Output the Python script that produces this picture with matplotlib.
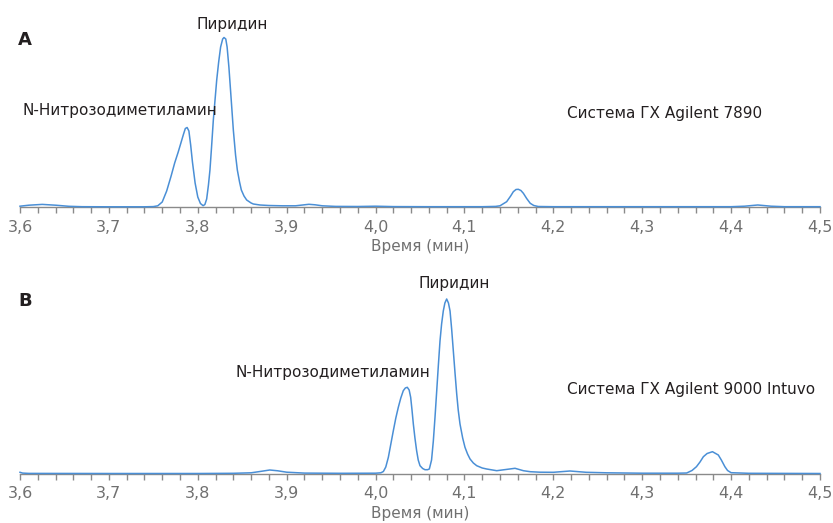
import matplotlib
matplotlib.use("Agg")
import matplotlib.pyplot as plt
from matplotlib.ticker import FixedLocator, FixedFormatter, MultipleLocator

plt.rcParams['font.family'] = ['DejaVu Sans']

# retention time (min) and detector signal, panel A (7890)
time_a = [3.600, 3.610, 3.625, 3.640, 3.655, 3.670, 3.700, 3.740, 3.750, 3.755,
          3.760, 3.765, 3.770, 3.774, 3.778, 3.781, 3.784, 3.786, 3.788, 3.790,
          3.792, 3.794, 3.797, 3.800, 3.803, 3.806, 3.808, 3.810, 3.812, 3.8137,
          3.8155, 3.8175, 3.8195, 3.8213, 3.8235, 3.8257, 3.828, 3.8295, 3.8315, 3.833,
          3.835, 3.837, 3.840, 3.8425, 3.8445, 3.847, 3.849, 3.852, 3.855, 3.860,
          3.8625, 3.870, 3.880, 3.895, 3.910, 3.918, 3.925, 3.932, 3.940, 3.955,
          3.980, 4.000, 4.020, 4.060, 4.120, 4.135, 4.140, 4.1475, 4.152, 4.155,
          4.158, 4.1606, 4.1635, 4.1663, 4.170, 4.174, 4.178, 4.183, 4.200, 4.400,
          4.415, 4.430, 4.445, 4.460, 4.500]
signal_a = [0.8, 1.8, 2.6, 1.8, 0.7, 0.3, 0.2, 0.2, 0.4, 1.2,
            5, 16, 31, 44, 55, 64, 73, 78.5, 79.5, 76,
            62, 45, 24, 10, 3.5, 1.3, 2.5, 8, 22, 37,
            60, 87, 108, 127, 145, 160, 168, 169.5, 168, 160,
            140, 115, 77, 52, 37, 25, 17, 11, 7, 4,
            3, 2, 1.5, 1.2, 1.2, 2, 2.7, 2.2, 1.2, 0.6,
            0.5, 0.8, 0.4, 0.3, 0.3, 0.6, 1.2, 5.3, 11, 15.3,
            17.5, 17.7, 16.5, 13.7, 8.5, 3.7, 1.5, 0.5, 0.3, 0.3,
            0.8, 2.0, 0.8, 0.3, 0.3]

# panel B (9000 Intuvo)
time_b = [3.600, 3.603, 3.610, 3.700, 3.800, 3.840, 3.860, 3.870, 3.881, 3.890,
          3.900, 3.920, 3.960, 4.000, 4.006, 4.0088, 4.0115, 4.0144, 4.0172, 4.020,
          4.0228, 4.0256, 4.0284, 4.0312, 4.0335, 4.0357, 4.0378, 4.0395, 4.041, 4.0425,
          4.0443, 4.0462, 4.048, 4.050, 4.053, 4.0556, 4.0585, 4.0605, 4.063, 4.065,
          4.0669, 4.0688, 4.0706, 4.0725, 4.0743, 4.0762, 4.078, 4.080, 4.082, 4.0838,
          4.0856, 4.0875, 4.0894, 4.0913, 4.093, 4.095, 4.098, 4.1006, 4.1035, 4.1063,
          4.110, 4.1138, 4.120, 4.125, 4.1363, 4.1475, 4.1569, 4.1663, 4.174, 4.185,
          4.200, 4.2187, 4.237, 4.260, 4.300, 4.340, 4.350, 4.356, 4.361, 4.365,
          4.3688, 4.373, 4.379, 4.3856, 4.389, 4.393, 4.396, 4.400, 4.420, 4.500]
signal_b = [1.7, 0.9, 0.6, 0.5, 0.5, 0.7, 1.2, 2.5, 4, 3.2,
            1.8, 0.9, 0.7, 0.8, 1.2, 2.5, 7, 16.7, 30, 43.3,
            56, 66.7, 76, 83.3, 86, 86.7, 84, 76.7, 64, 50,
            36, 23.3, 14, 8.3, 5.5, 4.3, 4.3, 5, 14, 33,
            57, 83, 108, 133, 150, 163, 171, 175, 171, 163,
            145, 123, 101, 80, 64, 50, 36, 26.7, 20, 15,
            11, 8.3, 6, 5, 3.3, 4.6, 5.7, 3.3, 2.3, 1.8,
            1.7, 3, 1.7, 1.2, 0.8, 0.8, 1.0, 3.5, 7.3, 12,
            17.3, 20.5, 22.3, 19, 14, 7.3, 3.5, 1.3, 0.7, 0.5]

tick_values = [3.6, 3.7, 3.8, 3.9, 4.0, 4.1, 4.2, 4.3, 4.4, 4.5]
tick_labels = ['3,6', '3,7', '3,8', '3,9', '4,0', '4,1', '4,2', '4,3', '4,4', '4,5']
xlabel = 'Время (мин)'

panel_letters = ['A', 'B']
system_names = ['Система ГХ Agilent 7890', 'Система ГХ Agilent 9000 Intuvo']

line_color = '#4a8fd6'
text_color = '#231f20'
grey = '#707070'

W, H = 833, 523
fig = plt.figure(figsize=(W / 100, H / 100), dpi=100)

# axes boxes in pixels: (left, baseline, top)
ax_a = fig.add_axes([20 / W, (H - 207) / H, 800 / W, 207 / H])
ax_b = fig.add_axes([20 / W, (H - 474) / H, 800 / W, 212 / H])

for ax, t, s, ytop in [(ax_a, time_a, signal_a, 207), (ax_b, time_b, signal_b, 212)]:
    ax.plot(t, s, color=line_color, lw=1.1, clip_on=False, zorder=3,
            solid_joinstyle='round')
    ax.set_xlim(3.6, 4.5)
    ax.set_ylim(0, ytop)
    for side in ['left', 'right', 'top']:
        ax.spines[side].set_visible(False)
    ax.spines['bottom'].set_color('#8a8a8a')
    ax.spines['bottom'].set_linewidth(1.0)
    ax.yaxis.set_visible(False)
    ax.xaxis.set_major_locator(FixedLocator(tick_values))
    ax.xaxis.set_major_formatter(FixedFormatter(tick_labels))
    ax.xaxis.set_minor_locator(MultipleLocator(0.02))
    ax.tick_params(axis='x', which='both', direction='out', length=4, width=1,
                   color='#8a8a8a', labelsize=11.5, labelcolor=grey, pad=5)
    ax.set_xlabel(xlabel, fontsize=11, color=grey, labelpad=3)
    ax.patch.set_visible(False)

# peak and system labels
ax_a.text(3.5978, 162, panel_letters[0], fontsize=13, fontweight='bold', color=text_color, va='baseline')
ax_a.text(3.8385, 178, 'Пиридин', fontsize=11, color=text_color, ha='center', va='baseline')
ax_a.text(3.603, 92, 'N-Нитрозодиметиламин', fontsize=11, color=text_color, ha='left', va='baseline')
ax_a.text(4.215, 88.7, system_names[0], fontsize=11, color=text_color, ha='left', va='baseline')

ax_b.text(3.5978, 168, panel_letters[1], fontsize=13, fontweight='bold', color=text_color, va='baseline')
ax_b.text(4.0882, 185.7, 'Пиридин', fontsize=11, color=text_color, ha='center', va='baseline')
ax_b.text(3.8419, 97, 'N-Нитрозодиметиламин', fontsize=11, color=text_color, ha='left', va='baseline')
ax_b.text(4.215, 79.7, system_names[1], fontsize=11, color=text_color, ha='left', va='baseline')

fig.savefig('out.png', dpi=100)
